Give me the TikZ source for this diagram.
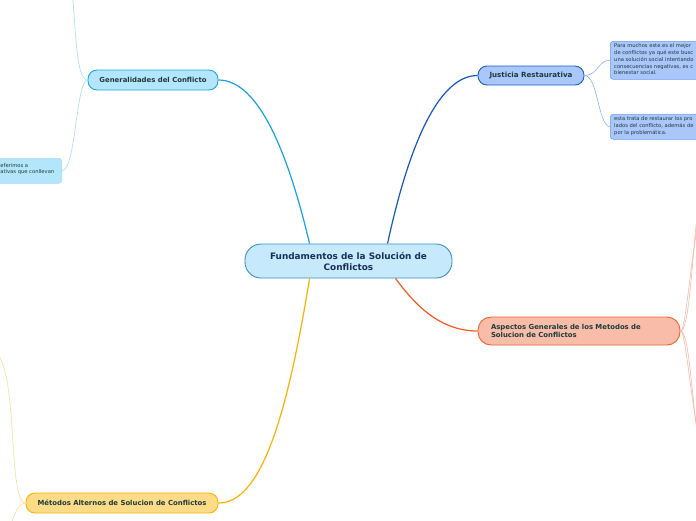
\documentclass[tikz,border=0pt]{standalone}
\usepackage{fontspec}
\setmainfont{DejaVu Sans}
\definecolor{txt}{HTML}{1D3B3A}
\definecolor{navy}{HTML}{1B2E5A}
\definecolor{cfill}{HTML}{C6E9FC}
\definecolor{cdraw}{HTML}{3D8FC9}
\definecolor{gfill}{HTML}{B3E5FC}
\definecolor{gdraw}{HTML}{1FA5E5}
\definecolor{gline}{HTML}{1AA0E6}
\definecolor{gsub}{HTML}{A8DCF5}
\definecolor{jfill}{HTML}{A9C7FA}
\definecolor{jdraw}{HTML}{1E5EC8}
\definecolor{jline}{HTML}{1555C5}
\definecolor{jsub}{HTML}{8AB4F5}
\definecolor{jsubdraw}{HTML}{6B9EF0}
\definecolor{afill}{HTML}{F9BCA9}
\definecolor{adraw}{HTML}{F26330}
\definecolor{aline}{HTML}{F25A24}
\definecolor{asub}{HTML}{F8B9A4}
\definecolor{mfill}{HTML}{FEDB87}
\definecolor{mdraw}{HTML}{F7B500}
\definecolor{mline}{HTML}{FBB203}
\definecolor{msub}{HTML}{FDDC98}
\tikzset{
  pill/.style={rounded corners=9pt, line width=0.9pt, inner sep=0pt, text=txt, font=\bfseries\fontsize{6.9}{8.6}\selectfont},
  subbox/.style={rounded corners=3pt, line width=0.6pt, inner sep=0pt},
  subtext/.style={inner sep=0pt, text=txt, font=\fontsize{5.2}{6.7}\selectfont, align=left, anchor=north west},
  mainline/.style={line width=1.2pt},
  subline/.style={line width=0.6pt},
}
\begin{document}
\begin{tikzpicture}[x=1pt,y=-1pt]
\useasboundingbox (0,0) rectangle (696,520);
\clip (0,0) rectangle (696,520);
\fill[white] (0,0) rectangle (696,520);

% central node
\node[draw=cdraw, fill=cfill, rounded corners=16pt, line width=0.9pt, minimum width=207pt, minimum height=34pt, inner sep=0pt, text=navy, font=\bfseries\fontsize{8.9}{11}\selectfont, align=center] (c) at (348.5,261) {Fundamentos de la Solución de\\Conflictos};

% main topics
\node[pill, draw=gdraw, fill=gfill, minimum width=130pt, minimum height=20pt] (gen) at (153,80) {Generalidades del Conflicto};
\node[pill, draw=jdraw, fill=jfill, minimum width=106pt, minimum height=19pt, font=\bfseries\fontsize{7.1}{8.6}\selectfont] (jus) at (531,75.5) {Justicia Restaurativa};
\node[pill, draw=adraw, fill=afill, minimum width=202pt, minimum height=28pt, rounded corners=13pt, align=left, text width=176pt] (asp) at (579,331) {Aspectos Generales de los Metodos de\\Solucion de Conflictos};
\node[pill, draw=mdraw, fill=mfill, minimum width=192pt, minimum height=20pt] (met) at (122,503) {Métodos Alternos de Solucion de Conflictos};

% main connectors
\draw[mainline, gline] (c.north west) ++(65,0) coordinate (c1) (c1) .. controls (285,140) and (255,80) .. (gen.east);
\draw[mainline, jline] (c.north west) ++(143,0) coordinate (c2) (c2) .. controls (410,140) and (440,75.5) .. (jus.west);
\draw[mainline, aline] (c.south west) ++(151,0) coordinate (c3) (c3) .. controls (420,312) and (445,331) .. (asp.west);
\draw[mainline, mline] (c.south west) ++(65,0) coordinate (c4) (c4) .. controls (285,430) and (258,503) .. (met.east);

% Justicia children
\node[subbox, draw=jsubdraw, fill=jfill, anchor=north west, minimum height=38pt, minimum width=100pt] (j1) at (610,41) {};
\node[subtext] (j1t) at (614,43.8) {Para muchos este es el mejor\\de conflictos ya qué este busc\\una solución social intentando\\consecuencias negativas, es c\\bienestar social.};
\node[subbox, draw=jsubdraw, fill=jfill, anchor=north west, minimum height=25pt, minimum width=100pt] (j2) at (610,114) {};
\node[subtext] (j2t) at (614,116.8) {esta trata de restaurar los pro\\lados del conflicto, además de\\por la problemática.};
\draw[subline, jsub] (jus.east) .. controls (598,75.5) and (598,60) .. (j1.west);
\draw[subline, jsub] (jus.east) .. controls (598,75.5) and (598,126) .. (j2.west);

% Generalidades children
\coordinate (g1) at (72,-10);
\node[subbox, draw=gsub, fill=gfill, anchor=north east, minimum height=25pt, minimum width=80pt] (g2) at (62,158) {};
\node[subtext] (g2t) at (0.3,163) {eferimos a\\ativas que conllevan};
\draw[subline, gsub] (gen.west) .. controls (76,80) and (76,30) .. (g1);
\draw[subline, gsub] (gen.west) .. controls (76,80) and (76,170) .. (g2.east);

% Metodos children
\coordinate (m1) at (-2,355);
\coordinate (m2) at (10,528);
\draw[subline, msub] (met.west) .. controls (8,503) and (18,380) .. (m1);
\draw[subline, msub] (met.west) .. controls (18,503) and (14,515) .. (m2);

% Aspectos children
\coordinate (a1) at (700,190);
\coordinate (a2) at (702,200);
\coordinate (a3) at (700,450);
\coordinate (a4) at (703,460);
\draw[subline, asub] (asp.east) .. controls (690,331) and (692,250) .. (a1);
\draw[subline, asub] (asp.east) .. controls (686,331) and (690,260) .. (a2);
\draw[subline, asub] (asp.east) .. controls (690,331) and (692,410) .. (a3);
\draw[subline, asub] (asp.east) .. controls (686,331) and (690,400) .. (a4);
\end{tikzpicture}
\end{document}
